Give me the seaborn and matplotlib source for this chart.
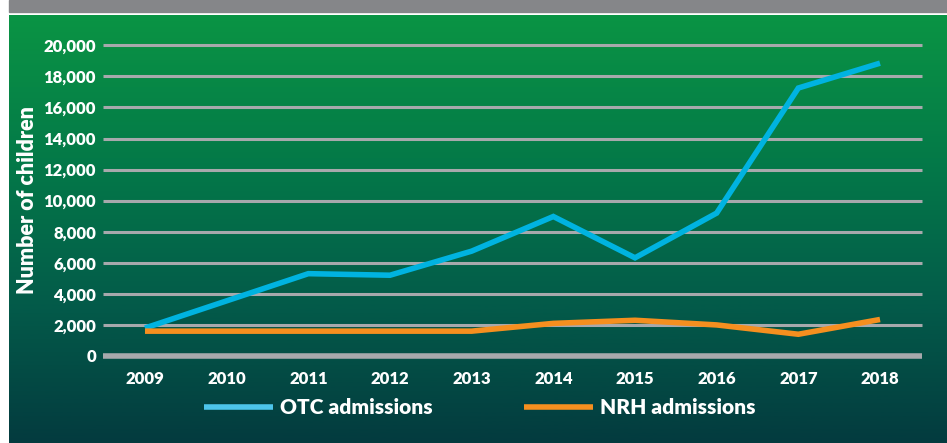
import numpy as np
import pandas as pd
import seaborn as sns
import matplotlib.pyplot as plt
from matplotlib.colors import LinearSegmentedColormap
from matplotlib.lines import Line2D

# data
years = [2009, 2010, 2011, 2012, 2013, 2014, 2015, 2016, 2017, 2018]
otc = [1800, 3550, 5300, 5200, 6750, 8980, 6320, 9200, 17250, 18850]
nrh = [1600, 1600, 1600, 1600, 1600, 2100, 2300, 2000, 1400, 2350]
series_names = ["OTC admissions", "NRH admissions"]
yticks = list(range(0, 20001, 2000))

df = pd.DataFrame({
    "year": years * 2,
    "count": otc + nrh,
    "series": [series_names[0]] * len(years) + [series_names[1]] * len(years),
})

sns.set_theme(style="white")
plt.rcParams['font.family'] = ['Lato', 'DejaVu Sans']

W, H = 947, 443
fig = plt.figure(figsize=(W / 100, H / 100), dpi=100)

# background: white strip, gray header, green gradient
bg = fig.add_axes([0, 0, 1, 1])
bg.set_xlim(0, W)
bg.set_ylim(H, 0)
bg.axis("off")
grad = LinearSegmentedColormap.from_list(
    "g", ["#0a9444", "#047a48", "#035c4a", "#033b3f"])
bg.imshow(np.linspace(0, 1, 256).reshape(-1, 1), cmap=grad, aspect="auto",
          extent=[9, W, H, 15])
bg.add_patch(plt.Rectangle((9, 0), W - 9, 12, color="#858689"))

# plot area
left, right = 103 / W, 922 / W
bottom, top = (H - 356) / H, (H - 45.3) / H
ax = fig.add_axes([left, bottom, right - left, top - bottom])
ax.patch.set_alpha(0)

for y in yticks:
    ax.axhline(y, color="#a7a9ac", lw=4 if y == 0 else 2.2, zorder=1,
               clip_on=False, solid_capstyle="butt")

line_colors = {"OTC admissions": "#00b3e0", "NRH admissions": "#f58f1f"}
sns.lineplot(data=df, x="year", y="count", hue="series", palette=line_colors,
             linewidth=4, ax=ax, legend=False, zorder=3)
for ln in ax.lines[-2:]:
    ln.set_clip_on(False)
    ln.set_solid_joinstyle("miter")
    ln.set_solid_capstyle("butt")

ax.set_xlim(years[0] - 0.514, years[-1] + 0.514)
ax.set_ylim(0, 20000)
ax.set_xticks(years)
ax.set_yticks(yticks)
ax.set_yticklabels([f"{v:,}" for v in yticks])
ax.tick_params(axis="both", length=0, colors="white", labelsize=12)
ax.tick_params(axis="y", pad=5)
ax.tick_params(axis="x", pad=11)
for lab in ax.get_xticklabels() + ax.get_yticklabels():
    lab.set_fontweight("heavy")
for s in ax.spines.values():
    s.set_visible(False)
ax.set_xlabel("")
ax.set_ylabel("")
fig.text(27 / W, 1 - 200 / H, "Number of children", color="white",
         fontsize=15.5, fontweight="heavy", rotation=90, ha="center", va="center")

handles = [Line2D([], [], color="#4dc4ea", lw=4, solid_capstyle="butt"),
           Line2D([], [], color="#f58f1f", lw=4, solid_capstyle="butt")]
fig.legend(handles, series_names, loc="center",
           bbox_to_anchor=(480 / W, 1 - 408 / H), ncol=2, frameon=False,
           handlelength=3.3, handletextpad=0.33, columnspacing=4.4,
           prop={"weight": "heavy", "size": 15}, labelcolor="white")

fig.savefig("out.png", dpi=100)
